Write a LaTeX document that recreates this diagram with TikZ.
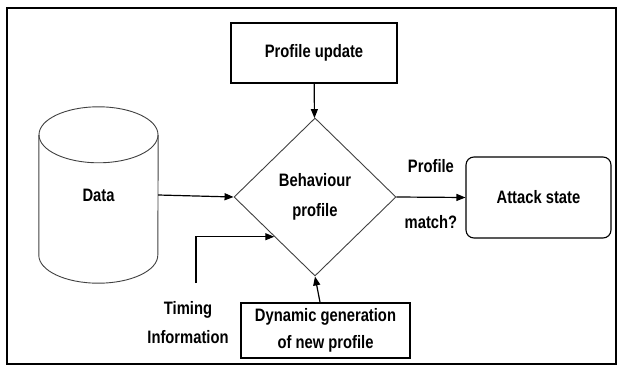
\documentclass[tikz,border=0pt]{standalone}
\usepackage{fontspec}
\setmainfont{Liberation Sans}[FakeStretch=0.82]
\usepackage{tikz}
\usetikzlibrary{arrows.meta,positioning,shapes.geometric}

\begin{document}
\begin{tikzpicture}[x=1pt,y=1pt,
  every node/.style={font=\fontsize{18}{30}\selectfont\bfseries},
  box/.style={draw,line width=1.1pt,inner sep=0pt},
  decide/.style={diamond,draw=black!75,line width=.9pt,inner sep=0pt,
    minimum width=162pt,minimum height=158pt,align=center},
  flow/.style={-{Triangle[length=9pt,width=7pt]},line width=1.2pt}]
\useasboundingbox (0,0) rectangle (618,-366);
\draw[line width=1.4pt] (7,-8) rectangle (616,-364);
\node[box,minimum width=166pt,minimum height=60pt] (update) at (314,-53) {Profile update};
\node[decide] (beh) at (315,-197) {Behaviour\\profile};
\node[minimum width=119pt,minimum height=120pt,inner sep=0pt] (data) at (98.5,-195) {Data};
\draw[black!75,line width=.9pt] (data.north west) -- (data.south west)
  arc[start angle=180,end angle=360,x radius=59.5pt,y radius=28pt] -- (data.north east);
\draw[black!75,line width=.9pt] (data.north) ellipse[x radius=59.5pt,y radius=28pt];
\node[box,rounded corners=8pt,minimum width=145pt,minimum height=81pt] (attack) at (538.5,-197.5) {Attack state};
\node[box,minimum width=169pt,minimum height=55pt,align=center,
  font=\fontsize{18}{27}\selectfont\bfseries] (dyn) at (325.5,-330.5) {Dynamic generation\\of new profile};
\node[align=center,font=\fontsize{18}{29}\selectfont\bfseries] (timing) at (188,-323) {Timing\\Information};
\coordinate (tin) at (196,-283);
\draw[flow] (update) -- (beh);
\draw[flow] (data.east) -- (beh.west);
\draw[flow] (tin) |- (beh.south west);
\draw[flow] (dyn) -- (beh.south);
\draw[flow] (beh.east) -- node[midway,yshift=31pt]{Profile}
  node[midway,yshift=-25pt]{match?} (attack.west);
\end{tikzpicture}
\end{document}
